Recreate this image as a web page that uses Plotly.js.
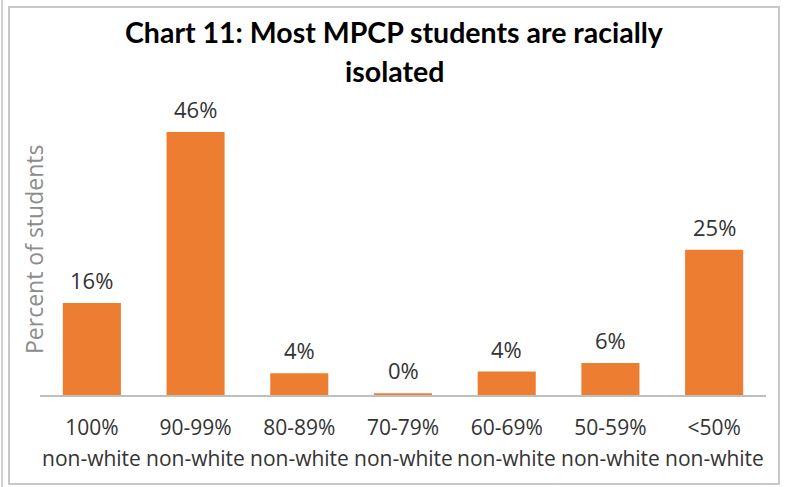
<!DOCTYPE html>
<html>
<head>
<meta charset="utf-8">
<script src="https://cdn.plot.ly/plotly-3.0.1.min.js"></script>
<style>
html,body{margin:0;padding:0;background:#fff;}
#wrap{position:relative;width:785px;height:487px;}
#chart{width:785px;height:487px;}
#frame{position:absolute;left:8px;top:6px;width:768px;height:475px;border:2px solid #c8c8c8;pointer-events:none;}
#frame2{position:absolute;left:1px;top:0px;width:0;height:487px;border-left:2px solid #d0d0d0;pointer-events:none;}
</style>
</head>
<body>
<div id="wrap">
<div id="chart"></div>
<div id="frame"></div>
<div id="frame2"></div>
</div>
<script>
var titleLines = ["Chart 11: Most MPCP students are racially", "isolated"];
var yTitle = "Percent of students";
var categories = ["100%", "90-99%", "80-89%", "70-79%", "60-69%", "50-59%", "<50%"];
var subLabels = ["non-white", "non-white", "non-white", "non-white", "non-white", "non-white", "non-white"];
var values = [16.1, 46, 3.8, 0.3, 4.1, 5.6, 25.4];
var valueLabels = ["16%", "46%", "4%", "0%", "4%", "6%", "25%"];

var font = "Open Sans, Lato, sans-serif";
var textColor = "#333333";

var annotations = [];
categories.forEach(function(c, i){
  annotations.push({x: c, xref: "x", y: 0, yref: "paper", yanchor: "top", yshift: -47,
          text: subLabels[i], showarrow: false,
          font: {family: font, size: 21, color: textColor}});
  annotations.push({x: c, xref: "x", y: values[i], yref: "y", yanchor: "bottom", yshift: 6,
          text: valueLabels[i], showarrow: false,
          font: {family: font, size: 22, color: textColor}});
});
annotations.push({x: 0, xref: "paper", xshift: -6, y: 0.4915, yref: "paper",
  text: yTitle, textangle: -90, showarrow: false,
  xanchor: "center", yanchor: "middle",
  font: {family: font, size: 23, color: "#8c8c8c"}});
var titleY = [1.2305, 1.0983];
titleLines.forEach(function(t, i){
  annotations.push({x: 0.5, xref: "paper", xshift: -9, y: titleY[i], yref: "paper",
    xanchor: "center", yanchor: "middle", text: "<b>" + t + "</b>", showarrow: false,
    font: {family: "Lato, sans-serif", size: 28.5, color: "#000000"}});
});

var trace = {
  type: "bar", x: categories, y: values,
  marker: {color: "#ED7D31"},
  hoverinfo: "none"
};

var layout = {
  width: 785, height: 487,
  margin: {l: 40, r: 19, t: 100, b: 92},
  paper_bgcolor: "#ffffff", plot_bgcolor: "#ffffff",
  bargap: 0.44,
  showlegend: false,
  xaxis: {showline: true, linecolor: "#bfbfbf", linewidth: 2, ticks: "",
          ticklabelstandoff: 13,
          tickfont: {family: font, size: 21, color: textColor},
          showgrid: false, zeroline: false, fixedrange: true},
  yaxis: {range: [0, 51.6], showticklabels: false, showgrid: false,
          zeroline: false, showline: false, ticks: "", fixedrange: true},
  annotations: annotations
};

Plotly.newPlot("chart", [trace], layout, {displayModeBar: false, staticPlot: true});
</script>
</body>
</html>
